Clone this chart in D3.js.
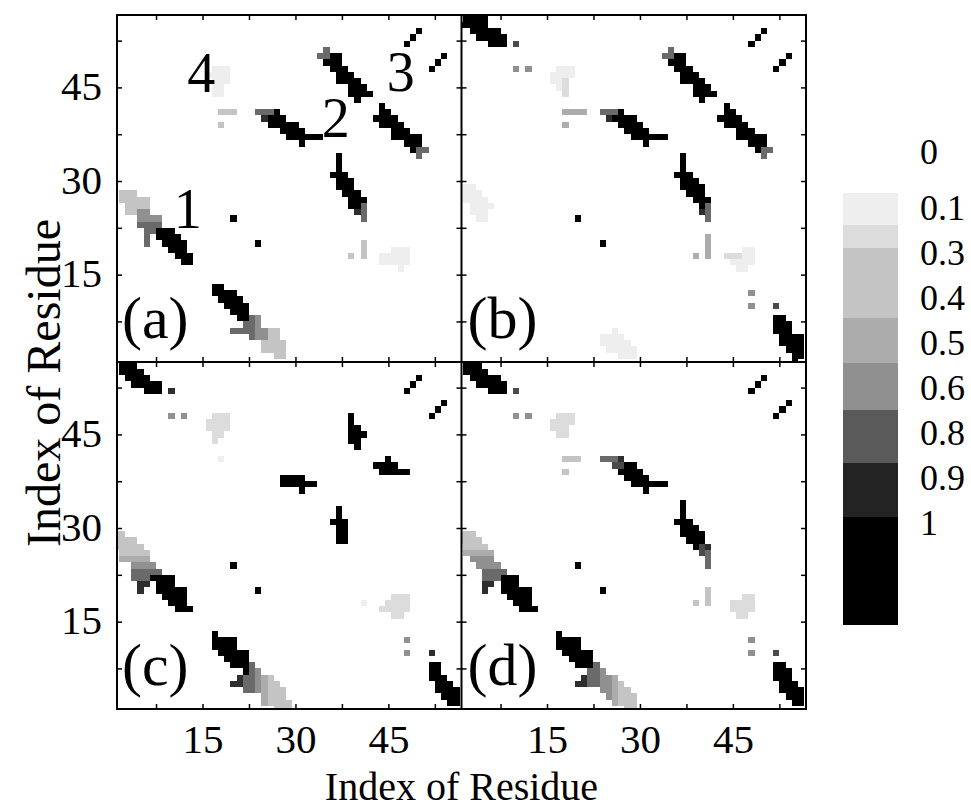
<!DOCTYPE html>
<html><head><meta charset="utf-8">
<script src="https://cdn.jsdelivr.net/npm/d3@7"></script>
<style>body{margin:0;background:#fff}svg{display:block}</style>
</head><body>
<script>
// ---------------- data ----------------
// contact-map cells of the upper triangle (y > x) as row runs: [row y, first x, last x, value]
// the lower triangle is the mirror image (map is symmetric)
const panelA = [
  [28,2,4,0.3],[27,2,6,0.3],[26,3,6,0.3],[25,3,4,0.3],[25,5,6,0.5],[24,5,8,0.5],[23,5,8,0.6],
  [22,6,7,0.6],[22,8,10,1],[21,6,6,0.6],[21,8,11,1],[20,6,6,0.6],[20,9,12,1],[19,10,12,1],[18,11,13,1],[17,12,13,1],
  [41,24,26,0.6],[41,27,27,1],[40,25,25,0.8],[40,26,28,1],[39,26,30,1],[38,28,31,1],[37,29,34,1],[36,31,31,1],
  [51,35,35,0.6],[50,34,35,0.6],[50,36,37,1],[49,35,37,1],[48,36,38,1],[47,37,39,1],[46,37,40,1],[45,39,41,1],[44,39,42,1],[43,40,40,1],
  [48,17,19,0.1],[47,16,19,0.1],[46,17,19,0.1],[45,17,18,0.1],[44,17,18,0.1],
  [41,18,20,0.3],[39,18,18,0.3],
  [24,20,20,1],
  [52,48,48,1],[53,49,49,1],[54,50,50,1]
];
const panelB = [
  [56,2,5,1],[55,1,5,1],[54,3,7,1],[53,4,8,1],[52,6,8,1],[52,10,10,0.7],
  [48,10,10,0.5],[48,12,12,0.5],
  [48,17,19,0.1],[47,16,19,0.1],[46,16,17,0.1],[46,18,18,0.2],[45,17,17,0.1],[45,18,18,0.2],[44,18,18,0.2],
  [41,18,21,0.4],[39,18,18,0.4],
  [41,24,26,0.6],[41,27,27,1],[40,25,25,0.8],[40,26,29,1],[39,27,30,1],[38,28,31,1],[37,29,34,1],[36,31,31,1],
  [51,35,35,0.6],[50,34,35,0.6],[50,36,37,1],[49,35,37,1],[48,36,38,1],[47,37,39,1],[46,37,40,1],[45,39,41,1],[44,39,42,1],[43,40,40,1],
  [29,2,3,0.1],[28,2,4,0.1],[27,2,5,0.1],[26,3,6,0.1],[25,3,5,0.1],[24,4,5,0.1],
  [24,20,20,1],
  [52,48,48,1],[53,49,49,1],[54,50,50,1]
];
const panelC = [
  [56,2,4,1],[55,2,5,1],[54,3,6,1],[53,4,8,1],[52,6,8,1],[52,10,10,0.8],
  [48,10,10,0.5],[48,12,12,0.5],
  [48,17,19,0.2],[47,16,19,0.2],[46,16,19,0.2],[45,17,18,0.2],[44,17,17,0.2],[41,18,18,0.1],
  [48,39,39,1],[47,39,39,1],[46,39,40,1],[45,39,41,1],[44,39,40,1],[43,40,40,1],
  [38,28,31,1],[37,28,33,1],[36,31,31,1],
  [29,1,2,0.3],[28,1,4,0.3],[27,1,5,0.3],[26,2,6,0.3],[25,2,6,0.4],[24,4,7,0.5],[23,4,8,0.6],
  [22,4,6,0.6],[22,7,10,1],[21,5,6,0.8],[21,8,10,1],[20,5,5,0.8],[20,8,12,1],[19,9,12,1],[18,10,12,1],[17,11,13,1],
  [24,20,20,1],
  [52,48,48,1],[53,49,49,1],[54,50,50,1]
];
const panelD = [
  [56,2,4,1],[55,2,5,1],[54,3,7,1],[53,4,8,1],[52,6,8,1],[52,10,10,0.7],
  [48,10,10,0.5],[48,12,12,0.5],
  [48,17,19,0.2],[47,16,19,0.2],[46,16,18,0.2],[45,17,18,0.2],
  [41,18,20,0.3],[39,18,18,0.3],
  [41,24,26,0.6],[41,27,27,0.8],[40,26,27,0.7],[40,28,29,1],[39,27,30,1],[38,28,31,1],[37,29,34,1],[36,31,31,1],
  [29,1,3,0.3],[28,1,4,0.3],[27,2,5,0.3],[26,2,6,0.4],[25,3,6,0.5],[24,4,7,0.5],[23,5,8,0.6],
  [22,5,7,0.6],[22,8,10,1],[21,5,6,0.8],[21,8,10,1],[20,5,5,0.8],[20,8,12,1],[19,9,12,1],[18,10,12,1],[17,11,13,1],
  [24,20,20,1],
  [52,48,48,1],[53,49,49,1],[54,50,50,1]
];
const panelData = [panelA, panelB, panelC, panelD];
const panelNames = ['(a)', '(b)', '(c)', '(d)'];
const minorTicks = [7.5, 15, 22.5, 30, 37.5, 45, 52.5];
const tickLabels = [15, 30, 45];
// annotations in panel (a): [text, x residue, y residue (baseline)]
const annotations = [['1', 12.6, 22.4], ['2', 36.5, 37.0], ['3', 47.0, 44.5], ['4', 14.8, 44.2]];
// colour bar
const legendLabels = ['0', '0.1', '0.3', '0.4', '0.5', '0.6', '0.8', '0.9', '1'];
const legendLabelIdx = [-0.2, 1.05, 2.05, 3.05, 4.05, 5.05, 6.05, 7.05, 8.05];
const legendBandValues = [0.1, 0.2, 0.3, 0.4, 0.5, 0.65, 0.85, 1];
const legendBandEdges = [0.73, 1.44, 1.96, 3.51, 4.51, 5.56, 6.73, 7.93, 10.33];
// gray levels
const grayStops = [0, 0.1, 0.2, 0.3, 0.4, 0.5, 0.6, 0.7, 0.8, 1];
const grayColors = ['#ffffff', '#eeeeee', '#dcdcdc', '#c4c4c4', '#acacac', '#909090', '#6a6a6a', '#4a4a4a', '#2e2e2e', '#000000'];

// ---------------- drawing ----------------
const W = 971, H = 811;
const FONT = '"Liberation Serif","Times New Roman",serif';
const svg = d3.select('body').append('svg').attr('width', W).attr('height', H)
  .style('font-family', FONT);
svg.append('rect').attr('width', W).attr('height', H).attr('fill', '#fff');

const frame = {left: 117, top: 15, right: 806, bottom: 709};
const pw = (frame.right - frame.left) / 2, ph = (frame.bottom - frame.top) / 2;
const xDomain = [1.2, 56.8], yDomain = [1.0, 56.6];
const gray = d3.scaleLinear().domain(grayStops).range(grayColors).clamp(true);

panelData.forEach((runs, k) => {
  const col = k % 2, row = Math.floor(k / 2);
  const x0 = frame.left + col * pw, y0 = frame.top + row * ph;
  const x = d3.scaleLinear().domain(xDomain).range([x0, x0 + pw]);
  const y = d3.scaleLinear().domain(yDomain).range([y0 + ph, y0]);
  const g = svg.append('g');
  const clipId = 'clip' + k;
  g.append('clipPath').attr('id', clipId).append('rect')
    .attr('x', x0).attr('y', y0).attr('width', pw).attr('height', ph);
  const cells = [];
  runs.forEach(([r, a, b, v]) => {
    for (let c = a; c <= b; c++) {
      cells.push({cx: c, cy: r, v});
      cells.push({cx: r, cy: c, v});
    }
  });
  g.append('g').attr('clip-path', `url(#${clipId})`)
    .selectAll('rect').data(cells).join('rect')
    .attr('x', d => x(d.cx - 0.5)).attr('y', d => y(d.cy + 0.5))
    .attr('width', d => x(d.cx + 0.5) - x(d.cx - 0.5))
    .attr('height', d => y(d.cy - 0.5) - y(d.cy + 0.5))
    .attr('fill', d => gray(d.v)).attr('shape-rendering', 'crispEdges');

  // inward ticks on four sides
  const tk = (axis, tr) => {
    const a = g.append('g').attr('transform', tr).call(axis.tickValues(minorTicks).tickFormat(''));
    a.select('.domain').remove();
    a.selectAll('line').attr('stroke', '#000').attr('stroke-width', 1.5);
  };
  tk(d3.axisBottom(x).tickSize(-5), `translate(0,${y0 + ph})`);
  tk(d3.axisTop(x).tickSize(-5), `translate(0,${y0})`);
  tk(d3.axisLeft(y).tickSize(-5), `translate(${x0},0)`);
  tk(d3.axisRight(y).tickSize(-5), `translate(${x0 + pw},0)`);

  // tick labels
  if (row === 1) {
    const a = g.append('g').attr('transform', `translate(0,${frame.bottom})`)
      .call(d3.axisBottom(x).tickValues(tickLabels).tickSize(0).tickPadding(15));
    a.select('.domain').remove();
    a.selectAll('text').attr('font-size', 41).attr('font-family', FONT).attr('fill', '#000').attr('dy', '0.71em');
  }
  if (col === 0) {
    const a = g.append('g').attr('transform', `translate(${frame.left},0)`)
      .call(d3.axisLeft(y).tickValues(tickLabels).tickSize(0).tickPadding(15));
    a.select('.domain').remove();
    a.selectAll('text').attr('font-size', 41).attr('font-family', FONT).attr('fill', '#000').attr('dy', '0.3em');
  }

  // panel letter
  g.append('text').attr('x', x0 + (col === 0 ? 5 : 6)).attr('y', y0 + ph - 24)
    .attr('font-size', 60).text(panelNames[k]);

  if (k === 0) {
    g.selectAll('text.ann').data(annotations).join('text').attr('class', 'ann')
      .attr('x', d => x(d[1])).attr('y', d => y(d[2]))
      .attr('text-anchor', 'middle').attr('font-size', 56).text(d => d[0]);
  }
});

// frame and dividers
svg.append('rect').attr('x', frame.left).attr('y', frame.top)
  .attr('width', frame.right - frame.left).attr('height', frame.bottom - frame.top)
  .attr('fill', 'none').attr('stroke', '#000').attr('stroke-width', 2);
svg.append('line').attr('x1', frame.left + pw).attr('x2', frame.left + pw)
  .attr('y1', frame.top).attr('y2', frame.bottom).attr('stroke', '#000').attr('stroke-width', 2);
svg.append('line').attr('y1', frame.top + ph).attr('y2', frame.top + ph)
  .attr('x1', frame.left).attr('x2', frame.right).attr('stroke', '#000').attr('stroke-width', 2);

// axis titles
svg.append('text').attr('x', (frame.left + frame.right) / 2).attr('y', 800)
  .attr('text-anchor', 'middle').attr('font-size', 40).text('Index of Residue');
svg.append('text').attr('transform', `translate(60,383) rotate(-90)`)
  .attr('text-anchor', 'middle').attr('font-size', 48).text('Index of Residue');

// colour bar
const ly = d3.scaleLinear().domain([1, 8]).range([205, 520]);
const bar = svg.append('g');
bar.selectAll('rect').data(legendBandValues).join('rect')
  .attr('x', 843).attr('width', 55)
  .attr('y', (d, i) => ly(legendBandEdges[i]))
  .attr('height', (d, i) => ly(legendBandEdges[i + 1]) - ly(legendBandEdges[i]))
  .attr('fill', d => gray(d)).attr('shape-rendering', 'crispEdges');
bar.selectAll('text').data(legendLabels).join('text')
  .attr('x', 920).attr('y', (d, i) => ly(legendLabelIdx[i]))
  .attr('dy', '0.35em').attr('font-size', 36).text(d => d);
</script>
</body></html>
